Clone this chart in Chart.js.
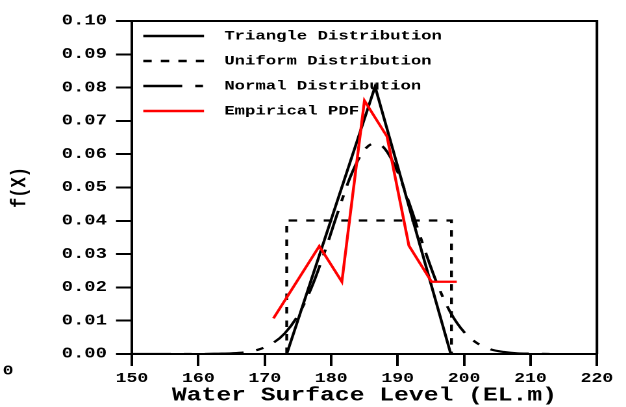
<!DOCTYPE html>
<html>
<head>
<meta charset="utf-8">
<script src="https://cdn.jsdelivr.net/npm/chart.js@4/dist/chart.umd.min.js"></script>
<style>
  html, body { margin: 0; padding: 0; background: #fff; overflow: hidden; }
  /* the original figure is stretched sideways, so draw narrow and widen */
  #wrap { width: 482px; height: 407px; transform: scaleX(1.2988); transform-origin: 0 0; }
</style>
</head>
<body>
<div id="wrap"><canvas id="pdfChart"></canvas></div>
<script>
const xTicks = [150, 160, 170, 180, 190, 200, 210, 220];
const yTicks = [0, 0.01, 0.02, 0.03, 0.04, 0.05, 0.06, 0.07, 0.08, 0.09, 0.10];

const triX = [173.3, 186.6, 198.0];
const triY = [0, 0.0803, 0];

const uniX = [173.3, 173.3, 198.1, 198.1];
const uniY = [0, 0.0401, 0.0401, 0];

const normX = [150, 155, 160, 163, 165, 167, 169, 171, 173, 175, 177, 179, 181, 183, 185, 186.6,
  188, 190, 192, 194, 196, 198, 200, 202, 204, 206, 208, 210, 213];
const normY = [0, 0, 0, 0.0001, 0.0002, 0.0005, 0.0013, 0.0030, 0.0062, 0.0116, 0.0198, 0.0306, 0.0426, 0.0538, 0.0613, 0.0633,
  0.0618, 0.0547, 0.0438, 0.0317, 0.0208, 0.0123, 0.0066, 0.0032, 0.0014, 0.0006, 0.0002, 0.0001, 0];

const empX = [171.3, 178.2, 181.6, 185.0, 188.4, 191.7, 195.1, 198.9];
const empY = [0.0107, 0.0324, 0.0217, 0.0761, 0.0653, 0.0325, 0.0217, 0.0217];

const FONT = "'Liberation Mono', 'DejaVu Sans Mono', monospace";

function pts(xs, ys) {
  return xs.map((x, i) => ({x: x, y: ys[i]}));
}

// legend drawn inside the plot, top-left
const insideLegend = {
  id: 'insideLegend',
  beforeDatasetsDraw(chart) {
    const ctx = chart.ctx;
    ctx.save();
    ctx.font = 'bold 13.3px ' + FONT;
    ctx.textBaseline = 'middle';
    ctx.fillStyle = '#000';
    chart.data.datasets.forEach((ds, i) => {
      const y = 36 + i * 25;
      ctx.beginPath();
      ctx.strokeStyle = ds.borderColor;
      ctx.lineWidth = 2.4;
      ctx.setLineDash(ds.borderDash || []);
      ctx.moveTo(110.3, y);
      ctx.lineTo(157.1, y);
      ctx.stroke();
      ctx.fillText(ds.label, 172.7, y);
    });
    ctx.restore();
  },
  afterDraw(chart) {
    const {ctx, chartArea} = chart;
    ctx.save();
    ctx.strokeStyle = '#000';
    ctx.lineWidth = 2;
    ctx.setLineDash([]);
    ctx.beginPath();
    ctx.moveTo(chartArea.left, chartArea.top);
    ctx.lineTo(chartArea.right, chartArea.top);
    ctx.lineTo(chartArea.right, chartArea.bottom);
    ctx.stroke();
    ctx.font = 'bold 14px ' + FONT;
    ctx.fillStyle = '#000';
    ctx.textBaseline = 'middle';
    ctx.fillText('0', 2, 371);
    ctx.restore();
  }
};

const ctx = document.getElementById('pdfChart').getContext('2d');
new Chart(ctx, {
  type: 'line',
  data: {
    datasets: [
      {label: 'Triangle Distribution', data: pts(triX, triY), borderColor: '#000', borderWidth: 2.2,
        borderDash: [], pointRadius: 0, tension: 0, order: 2},
      {label: 'Uniform Distribution', data: pts(uniX, uniY), borderColor: '#000', borderWidth: 2.2,
        borderDash: [6.5, 7], pointRadius: 0, tension: 0, order: 3},
      {label: 'Normal Distribution', data: pts(normX, normY), borderColor: '#000', borderWidth: 2.2,
        borderDash: [30, 10, 6, 10], pointRadius: 0, cubicInterpolationMode: 'monotone', order: 4},
      {label: 'Empirical PDF', data: pts(empX, empY), borderColor: '#ff0000', borderWidth: 2.2,
        borderDash: [], pointRadius: 0, tension: 0, order: 1}
    ]
  },
  options: {
    responsive: true,
    maintainAspectRatio: false,
    devicePixelRatio: 2,
    animation: false,
    layout: { padding: { top: 21, right: 22.4, left: 0, bottom: 0 } },
    plugins: { legend: { display: false }, tooltip: { enabled: false } },
    scales: {
      x: {
        type: 'linear',
        min: 150,
        max: 220,
        afterBuildTicks: s => { s.ticks = xTicks.map(v => ({value: v})); },
        afterFit: s => { s.height = 53; },
        grid: { drawOnChartArea: false, drawTicks: true, tickLength: 12, color: '#000', lineWidth: 2 },
        border: { display: true, color: '#000', width: 2 },
        ticks: { color: '#000', font: { family: FONT, size: 14, weight: 'bold' }, padding: 4,
          autoSkip: false, maxRotation: 0 },
        title: { display: true, text: 'Water Surface Level (EL.m)', color: '#000',
          font: { family: FONT, size: 19, weight: 'bold' }, padding: { top: 0, bottom: 0 } }
      },
      y: {
        min: 0,
        max: 0.1,
        afterBuildTicks: s => { s.ticks = yTicks.map(v => ({value: v})); },
        afterFit: s => { s.width = 101.6; },
        grid: { drawOnChartArea: false, drawTicks: true, tickLength: 12.3, color: '#000', lineWidth: 2 },
        border: { display: true, color: '#000', width: 2 },
        ticks: { color: '#000', font: { family: FONT, size: 14.5, weight: 'bold' }, padding: 7,
          callback: v => v.toFixed(2) },
        title: { display: true, text: 'f(X)', color: '#000',
          font: { family: FONT, size: 17, weight: 'bold' }, padding: { top: 5, bottom: 0 } }
      }
    }
  },
  plugins: [insideLegend]
});
</script>
</body>
</html>
